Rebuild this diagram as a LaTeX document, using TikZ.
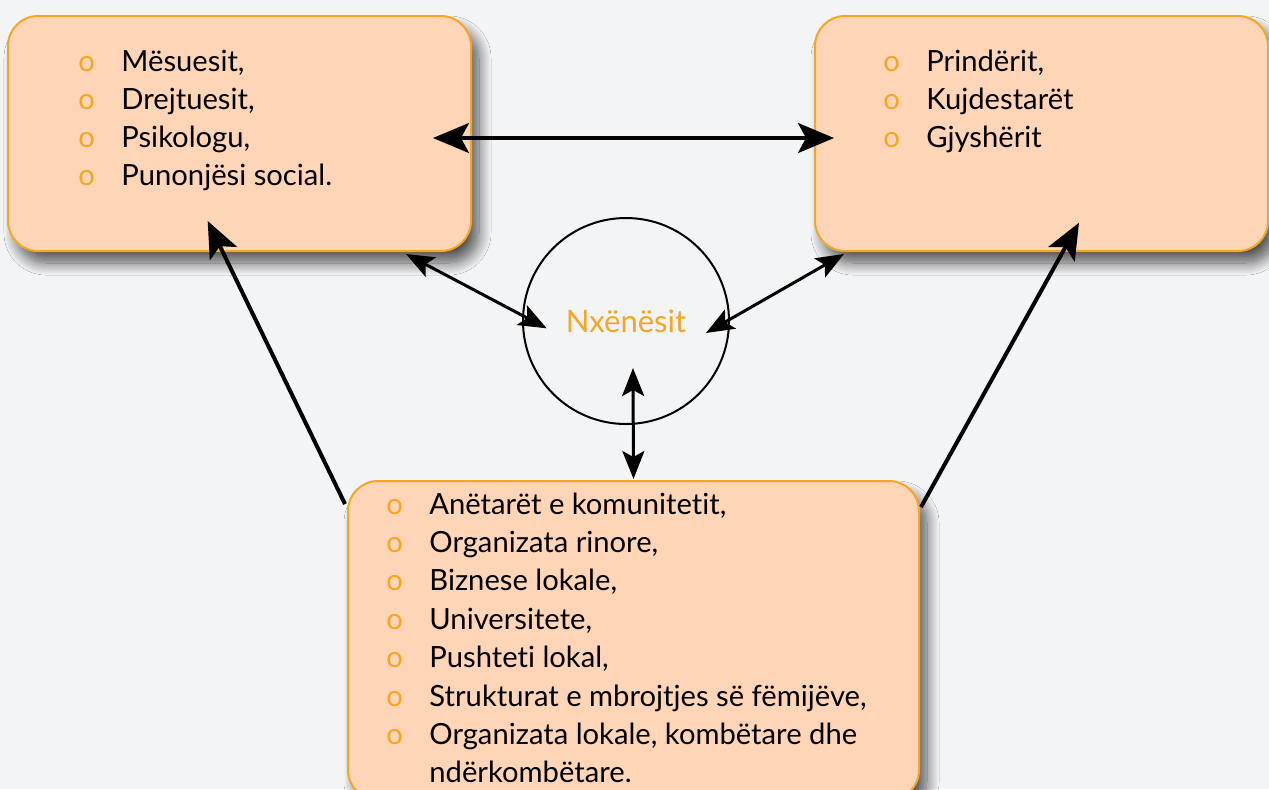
\documentclass[tikz,border=0pt]{standalone}
\usepackage{fontspec}
\setmainfont{Lato}[Ligatures=NoCommon]
\usetikzlibrary{arrows.meta,calc,shadows.blur}
\definecolor{sfondi}{HTML}{F3F4F6}
\definecolor{pjeshke}{HTML}{FFD5B8}
\definecolor{portokalli}{HTML}{F5A623}
\tikzset{
	kuti/.style={draw=portokalli, line width=1pt, fill=pjeshke, rounded corners=15pt, inner sep=0pt,
		blur shadow={shadow xshift=4pt, shadow yshift=-6pt, shadow blur radius=6pt, shadow blur steps=14, shadow opacity=65}},
	pike/.style={anchor=base west, inner sep=0pt, font=\fontsize{14.6}{17}\selectfont},
	shigjete/.style={line width=1.5pt, {Stealth[length=14pt, width=11pt, inset=3pt]}-{Stealth[length=14pt, width=11pt, inset=3pt]}},
	shigjetemadhe/.style={line width=1.6pt, {Stealth[length=18pt, width=15pt, inset=4pt]}-{Stealth[length=18pt, width=15pt, inset=4pt]}},
	shigjetegjate/.style={line width=2pt, -{Stealth[length=18pt, width=15pt, inset=4pt]}}
}
\begin{document}
\begin{tikzpicture}[x=.5pt, y=-.5pt]
		% Sfondi
		\fill[sfondi] (0,0) rectangle (1269,789);
		\useasboundingbox (0,0) rectangle (1269,789);
		
		% Kutitë
		\node[kuti, minimum width=231.5pt, minimum height=117.5pt] (majtas) at (239.5,133.5) {};
		\node[kuti, minimum width=226.5pt, minimum height=117.5pt] (djathtas) at (1041.5,133.5) {};
		\node[kuti, minimum width=285.5pt, minimum height=159.5pt] (poshte) at (633.5,640.5) {};
		
		% Rrethi
		\node[draw, circle, line width=1pt, minimum size=103pt, inner sep=0pt, text=portokalli, font=\fontsize{15.5}{18}\selectfont] (rrethi) at (626,321) {Nxënësit\hspace{3pt}};
		
		% Listat
		\foreach \t [count=\i] in {{Mësuesit,}, {Drejtuesit,}, {Psikologu,}, {Punonjësi social.}}{
			\node[pike] (m-\i) at (78, 33 + 38*\i) {\makebox[21.5pt][l]{\color{portokalli}o}\t};}
		\foreach \t [count=\i] in {{Prindërit,}, {Kujdestarët}, {Gjyshërit}}{
			\node[pike] (d-\i) at (883, 33 + 38*\i) {\makebox[21.5pt][l]{\color{portokalli}o}\t};}
		\foreach \t [count=\i] in {{Anëtarët e komunitetit,}, {Organizata rinore,}, {Biznese lokale,}, {Universitete,}, {Pushteti lokal,}, {Strukturat e mbrojtjes së fëmijëve,}, {Organizata lokale, kombëtare dhe}}{
			\node[pike] (p-\i) at (386, 475.6 + 38.4*\i) {\makebox[21.5pt][l]{\color{portokalli}o}\t};}
		\node[pike] (p-8) at (429, 782.8) {ndërkombëtare.};
		
		% Shigjetat
		\draw[shigjetemadhe] ($(majtas.east)+(-39,4.5)$) -- ($(djathtas.west)+(20,4.5)$);
		\draw[shigjete] ($(majtas.south east)+(-66,2)$) -- ($(rrethi.west)+(24.7,7.3)$);
		\draw[shigjete] ($(djathtas.south west)+(30,2)$) -- ($(rrethi.east)+(-24,12)$);
		\draw[shigjete] ($(rrethi.south)+(7,-57)$) -- ($(poshte.north)+(0,-1)$);
		\draw[shigjetegjate] ($(poshte.north west)+(-2,24)$) -- ($(majtas.south)+(-31.8,-31)$);
		\draw[shigjetegjate] ($(poshte.north east)+(1,27)$) -- ($(djathtas.south)+(37.5,-29.3)$);
	\end{tikzpicture}
\end{document}
